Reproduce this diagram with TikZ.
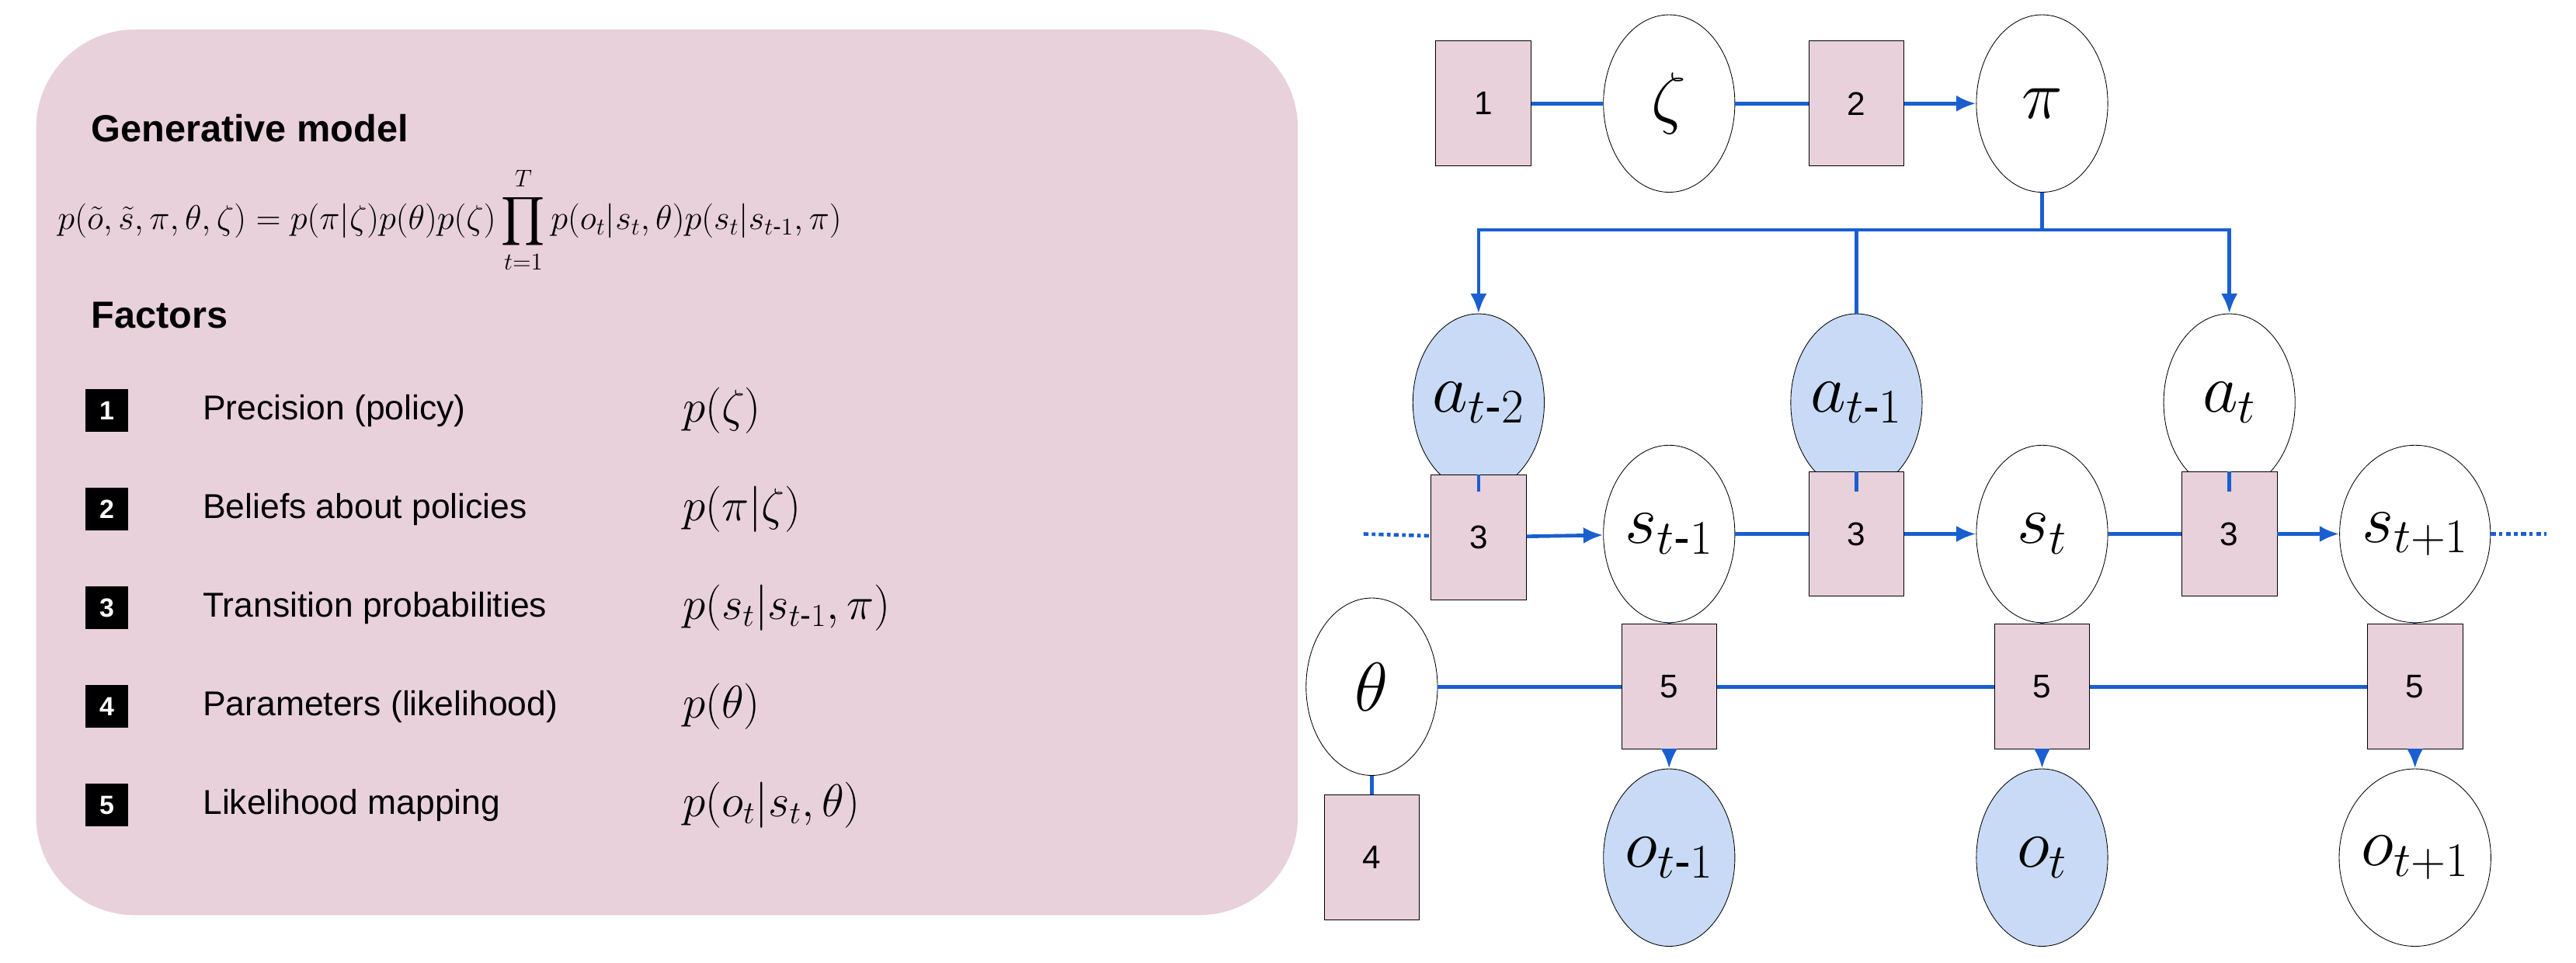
\RequirePackage{fix-cm}
\documentclass[tikz,border=0pt]{standalone}
\usepackage{amsmath}
\usepackage{fontspec}
\setmainfont{Liberation Sans}
\usetikzlibrary{shapes.geometric,arrows.meta}
\definecolor{pinkbg}{HTML}{E8D1DB}
\definecolor{edgeblue}{HTML}{1A5FD0}
\definecolor{obsblue}{HTML}{C8DAF5}
\begin{document}
\begin{tikzpicture}[x=1pt,y=-1pt,
  var/.style={draw, ellipse, minimum width=80pt, minimum height=108pt, inner sep=0pt, fill=white, font=\fontsize{42}{46}\selectfont},
  obs/.style={var, fill=obsblue},
  factor/.style={draw, rectangle, fill=pinkbg, minimum width=58pt, minimum height=76pt, font=\fontsize{20}{24}\selectfont},
  key/.style={fill=black, text=white, minimum size=26pt, inner sep=0pt, font=\bfseries\fontsize{16}{18}\selectfont},
  item/.style={anchor=west, font=\fontsize{21}{26}\selectfont},
  lnk/.style={edgeblue, line width=2.2pt},
  arr/.style={lnk, -{Latex[length=12pt,width=10pt]}},
]
\useasboundingbox (0,0) rectangle (1568,586);

% legend panel
\fill[pinkbg, rounded corners=60pt] (22,18) rectangle (790,557);
\node[anchor=west, font=\bfseries\fontsize{23}{28}\selectfont] (title) at (52,78) {Generative model};
\node[anchor=west, inner sep=0pt, font=\fontsize{21}{24}\selectfont] (joint) at (35,134)
  {$p(\tilde{o},\tilde{s},\pi,\theta,\zeta)=p(\pi|\zeta)p(\theta)p(\zeta)\displaystyle\prod_{t=1}^{T}p(o_t|s_t,\theta)p(s_t|s_{t\text{-}1},\pi)$};
\node[anchor=west, font=\bfseries\fontsize{23}{28}\selectfont] (factors) at (52,192) {Factors};

\foreach \k/\y/\txt/\f in {
  1/250/{Precision (policy)}/{p(\zeta)},
  2/310/{Beliefs about policies}/{p(\pi|\zeta)},
  3/370/{Transition probabilities}/{p(s_t|s_{t\text{-}1},\pi)},
  4/430/{Parameters (likelihood)}/{p(\theta)},
  5/490/{Likelihood mapping}/{p(o_t|s_t,\theta)}} {
  \node[key] (k\k) at (65,\y) {\k};
  \node[item] (t\k) at (120,\y) {\txt};
  \node[item, font=\fontsize{28}{32}\selectfont] (f\k) at (412,\y) {$\f$};
}

% factor graph
\node[factor] (fz) at (903,63) {1};
\node[var] (zeta) at (1016,63) {$\zeta$};
\node[factor] (fp) at (1130,63) {2};
\node[var] (pi) at (1243,63) {$\pi$};

\node[obs] (a2) at (900,245) {$a_{t\text{-}2}$};
\node[obs] (a1) at (1130,245) {$a_{t\text{-}1}$};
\node[var] (a0) at (1357,245) {$a_t$};

\node[factor] (fs2) at (900,327) {3};
\node[var] (s1) at (1016,325) {$s_{t\text{-}1}$};
\node[factor] (fs1) at (1130,325) {3};
\node[var] (s0) at (1243,325) {$s_t$};
\node[factor] (fs0) at (1357,325) {3};
\node[var] (sp) at (1470,325) {$s_{t+1}$};
\coordinate (lin) at (830,325);
\coordinate (rout) at (1550,325);

\node[var] (theta) at (835,418) {$\theta$};
\node[factor] (fo1) at (1016,418) {5};
\node[factor] (fo0) at (1243,418) {5};
\node[factor] (fop) at (1470,418) {5};
\node[factor] (fth) at (835,522) {4};

\node[obs] (o1) at (1016,522) {$o_{t\text{-}1}$};
\node[obs] (o0) at (1243,522) {$o_t$};
\node[var] (op) at (1470,522) {$o_{t+1}$};

\draw[lnk] (fz) -- (zeta);
\draw[lnk] (zeta) -- (fp);
\draw[arr] (fp) -- (pi);

\coordinate (br) at (1243,140);
\draw[lnk] (pi) -- (br);
\draw[arr] (br) -| (a2);
\draw[arr] (br) -| (a0);
\draw[lnk] (a1 |- br) -- (a1);

\draw[lnk] (a2) -- (fs2);
\draw[lnk] (a1) -- (fs1);
\draw[lnk] (a0) -- (fs0);

\draw[lnk, dash dot] (lin) -- (fs2);
\draw[arr] (fs2) -- (s1);
\draw[lnk] (s1) -- (fs1);
\draw[arr] (fs1) -- (s0);
\draw[lnk] (s0) -- (fs0);
\draw[arr] (fs0) -- (sp);
\draw[lnk, dash dot] (sp) -- (rout);

\draw[lnk] (theta) -- (fo1);
\draw[lnk] (fo1) -- (fo0);
\draw[lnk] (fo0) -- (fop);
\draw[lnk] (theta) -- (fth);

\draw[lnk] (s1) -- (fo1);
\draw[lnk] (s0) -- (fo0);
\draw[lnk] (sp) -- (fop);
\draw[arr] (fo1) -- (o1);
\draw[arr] (fo0) -- (o0);
\draw[arr] (fop) -- (op);
\end{tikzpicture}
\end{document}
